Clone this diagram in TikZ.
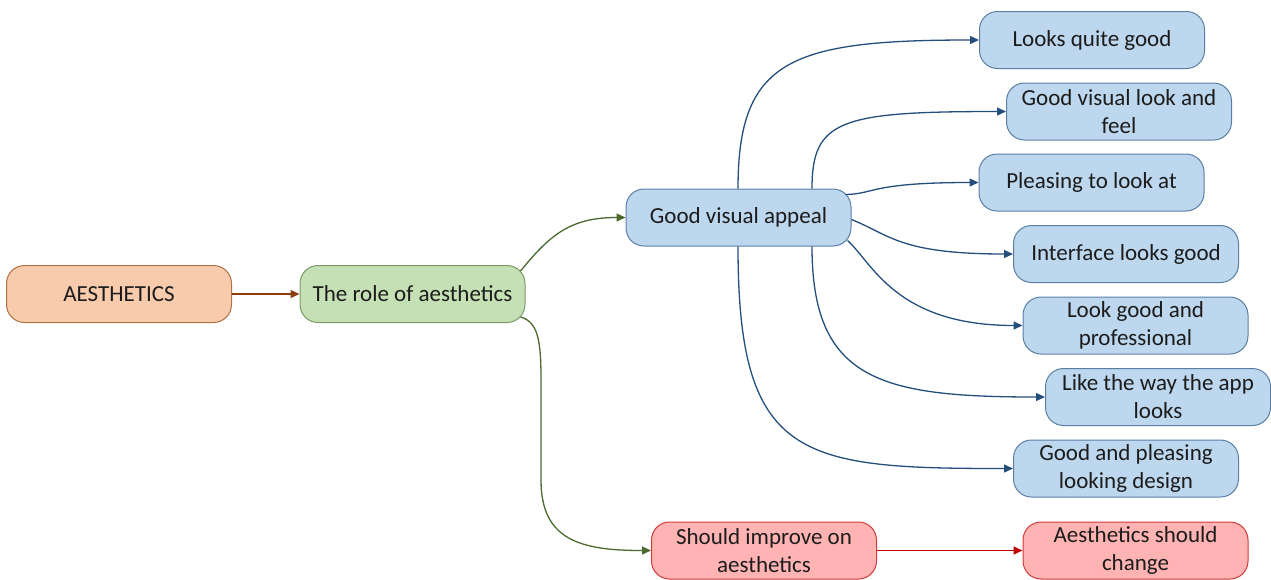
\documentclass[tikz,border=0pt]{standalone}
\usepackage{fontspec}
\setmainfont{Carlito}
\usetikzlibrary{arrows.meta}
\definecolor{orfill}{HTML}{F8CBAD}
\definecolor{ordraw}{HTML}{B0703F}
\definecolor{oredge}{HTML}{8B3D10}
\definecolor{grfill}{HTML}{C5E0B4}
\definecolor{grdraw}{HTML}{7A9A68}
\definecolor{gredge}{HTML}{4A6A2E}
\definecolor{blfill}{HTML}{BDD7EE}
\definecolor{bldraw}{HTML}{5A7FA3}
\definecolor{bledge}{HTML}{244F7C}
\definecolor{rdfill}{HTML}{FFB3B3}
\definecolor{rddraw}{HTML}{D03A3A}
\definecolor{rdedge}{HTML}{C00000}
\definecolor{txt}{HTML}{1C1C1C}
\tikzset{
  box/.style={draw, line width=1pt, rounded corners=18pt, minimum width=225pt,
    minimum height=57pt, inner sep=0pt, align=center, text=txt,
    font=\fontsize{23}{28}\selectfont},
  orbox/.style={box, fill=orfill, draw=ordraw},
  grbox/.style={box, fill=grfill, draw=grdraw},
  blbox/.style={box, fill=blfill, draw=bldraw},
  rdbox/.style={box, fill=rdfill, draw=rddraw},
  link/.style={line width=1.3pt, -{Triangle[length=9pt,width=8pt]}},
  orlink/.style={link, draw=oredge},
  grlink/.style={link, draw=gredge},
  bllink/.style={link, draw=bledge},
  rdlink/.style={link, draw=rdedge},
}
\begin{document}
\begin{tikzpicture}[x=1pt,y=-1pt]
\useasboundingbox (0,0) rectangle (1271,579);

% main chain
\node[orbox] (ae)   at (119,294)   {AESTHETICS};
\node[grbox] (role) at (412.5,294) {The role of aesthetics};
\node[blbox] (gva)  at (738.5,217.5) {Good visual appeal};

% comments on visual appeal
\node[blbox] (n1) at (1092,40)     {Looks quite good};
\node[blbox] (n2) at (1119,111.5)  {Good visual look and\\feel};
\node[blbox] (n3) at (1091.5,182.5){Pleasing to look at};
\node[blbox] (n4) at (1126,254)    {Interface looks good};
\node[blbox] (n5) at (1135.5,325.5){Look good and\\professional};
\node[blbox] (n6) at (1158,397)    {Like the way the app\\looks};
\node[blbox] (n7) at (1126,468.5)  {Good and pleasing\\looking design};

% improvement branch
\node[rdbox] (sh) at (764,550.5)    {Should improve on\\aesthetics};
\node[rdbox] (ch) at (1135.5,550.5) {Aesthetics should\\change};

% connectors
\draw[orlink] (ae.east) -- (role.west);
\draw[grlink] ([shift={(-5,-23)}]role.east) .. controls (550,235) and (570,217.5) .. (gva.west);
\draw[grlink] ([shift={(-5,23)}]role.east) .. controls (538,322) and (541,340) .. (541,380)
  -- (541,480) .. controls (541,540) and (580,550.5) .. (sh.west);
\draw[rdlink] (sh.east) -- (ch.west);

\draw[bllink] ([xshift=-0.5pt]gva.north) .. controls (738,60) and (790,40) .. (n1.west);
\draw[bllink] ([xshift=73.5pt]gva.north) .. controls (812,120) and (840,111.5) .. (n2.west);
\draw[bllink] ([shift={(-6,-23)}]gva.east) .. controls (875,194) and (870,182.5) .. (n3.west);
\draw[bllink] ([yshift=-2pt]gva.east) .. controls (890,235) and (900,254) .. (n4.west);
\draw[bllink] ([shift={(-4,23)}]gva.east) .. controls (872,262) and (895,325.5) .. (n5.west);
\draw[bllink] ([xshift=73.5pt]gva.south) .. controls (812,380) and (880,397) .. (n6.west);
\draw[bllink] ([xshift=-0.5pt]gva.south) .. controls (738,460) and (800,468.5) .. (n7.west);
\end{tikzpicture}
\end{document}
